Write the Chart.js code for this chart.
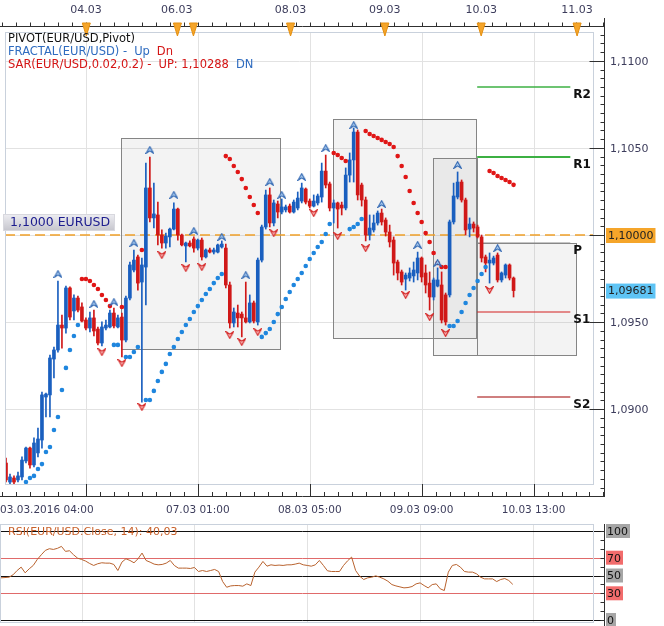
<!DOCTYPE html>
<html><head><meta charset="utf-8">
<script src="https://cdn.jsdelivr.net/npm/chart.js@4/dist/chart.umd.min.js"></script>
<style>
html,body{margin:0;padding:0;background:#fff;}
#wrap{position:relative;width:664px;height:626px;overflow:hidden;background:#fff;}
#main{position:absolute;left:0;top:0;}
#rsi{position:absolute;left:0;top:520px;}
</style></head><body>
<div id="wrap"><canvas id="main" width="664" height="520"></canvas><canvas id="rsi" width="664" height="106"></canvas></div>
<script>
// ---------- DATA (EUR/USD hourly candles, index = candle number) ----------
const opens = [
1.08691,1.08582,1.08605,1.08594,1.08611,1.08703,1.08777,1.08680,1.08749,1.08823,
1.09070,1.09082,1.09288,1.09340,1.09483,1.09466,1.09696,1.09564,1.09638,1.09587,
1.09512,1.09466,1.09524,1.09460,1.09380,1.09466,1.09472,1.09552,1.09472,1.09529,
1.09397,1.09638,1.09799,1.09874,1.09730,1.09816,1.10270,1.10098,1.10115,1.10000,
1.09954,1.09989,1.10034,1.10149,1.10000,1.09937,1.09954,1.09977,1.09925,1.09971,
1.09874,1.09914,1.09902,1.09902,1.09931,1.09925,1.09713,1.09495,1.09552,1.09546,
1.09524,1.09501,1.09610,1.09501,1.09856,1.10046,1.10230,1.10069,1.10178,1.10132,
1.10144,1.10166,1.10132,1.10155,1.10195,1.10264,1.10195,1.10166,1.10184,1.10218,
1.10367,1.10293,1.10155,1.10184,1.10172,1.10155,1.10344,1.10431,1.10591,1.10287,
1.10201,1.10000,1.10029,1.10069,1.10126,1.10086,1.10017,1.09971,1.09845,1.09788,
1.09747,1.09753,1.09765,1.09782,1.09868,1.09782,1.09724,1.09644,1.09707,1.09713,
1.09656,1.09656,1.10075,1.10218,1.10304,1.10201,1.10034,1.10063,1.10046,1.09989,
1.09874,1.09839,1.09839,1.09885,1.09742,1.09770,1.09828,1.09753];
const highs = [
1.08720,1.08628,1.08617,1.08639,1.08726,1.08783,1.08783,1.08835,1.08892,1.09099,
1.09093,1.09311,1.09357,1.09736,1.09541,1.09707,1.09702,1.09656,1.09650,1.09610,
1.09524,1.09558,1.09569,1.09472,1.09501,1.09512,1.09569,1.09581,1.09541,1.09552,
1.09650,1.09845,1.09914,1.09885,1.09868,1.10413,1.10448,1.10298,1.10189,1.10029,
1.10011,1.10040,1.10184,1.10155,1.10006,1.09960,1.09966,1.09989,1.09977,1.09983,
1.09920,1.09925,1.09925,1.09948,1.09966,1.09948,1.09730,1.09581,1.09598,1.09558,
1.09730,1.09656,1.09621,1.09868,1.10057,1.10258,1.10270,1.10201,1.10195,1.10207,
1.10172,1.10178,1.10201,1.10247,1.10298,1.10270,1.10207,1.10230,1.10235,1.10413,
1.10459,1.10304,1.10201,1.10189,1.10189,1.10385,1.10471,1.10614,1.10603,1.10298,
1.10218,1.10115,1.10115,1.10138,1.10149,1.10098,1.10057,1.09989,1.09856,1.09799,
1.09782,1.09811,1.09845,1.09902,1.09874,1.09828,1.09788,1.09753,1.09811,1.09788,
1.09667,1.10086,1.10298,1.10362,1.10316,1.10212,1.10098,1.10075,1.10057,1.10000,
1.09885,1.09897,1.09879,1.09897,1.09788,1.09834,1.09834,1.09759];
const lows = [
1.08582,1.08571,1.08571,1.08582,1.08594,1.08691,1.08662,1.08668,1.08726,1.08777,
1.08955,1.08955,1.09179,1.09328,1.09351,1.09437,1.09512,1.09512,1.09558,1.09501,
1.09455,1.09443,1.09420,1.09369,1.09363,1.09455,1.09466,1.09466,1.09466,1.09300,
1.09386,1.09627,1.09788,1.09684,1.09041,1.09598,1.10075,1.10040,1.09943,1.09925,
1.09925,1.09931,1.10029,1.09971,1.09937,1.09845,1.09931,1.09902,1.09914,1.09856,
1.09868,1.09897,1.09891,1.09897,1.09925,1.09696,1.09466,1.09472,1.09472,1.09415,
1.09495,1.09495,1.09495,1.09483,1.09845,1.10034,1.10046,1.10052,1.10098,1.10121,
1.10132,1.10126,1.10126,1.10144,1.10184,1.10178,1.10155,1.10161,1.10172,1.10189,
1.10270,1.10138,1.10069,1.10040,1.10115,1.10144,1.10304,1.10304,1.10201,1.10166,
1.09966,1.09971,1.10017,1.10057,1.10057,1.09994,1.09931,1.09770,1.09742,1.09713,
1.09684,1.09736,1.09730,1.09742,1.09730,1.09667,1.09569,1.09627,1.09702,1.09495,
1.09483,1.09644,1.10063,1.10207,1.10189,1.10000,1.09989,1.10017,1.09983,1.09845,
1.09788,1.09724,1.09828,1.09730,1.09730,1.09753,1.09742,1.09644];
const closes = [
1.08594,1.08611,1.08582,1.08617,1.08708,1.08777,1.08680,1.08806,1.08829,1.09082,
1.09087,1.09294,1.09340,1.09483,1.09466,1.09696,1.09529,1.09638,1.09569,1.09506,
1.09466,1.09524,1.09449,1.09380,1.09472,1.09483,1.09552,1.09478,1.09524,1.09397,
1.09638,1.09828,1.09856,1.09724,1.09828,1.10270,1.10098,1.10121,1.10000,1.09954,
1.09994,1.10034,1.10149,1.10000,1.09943,1.09954,1.09937,1.09925,1.09971,1.09874,
1.09914,1.09902,1.09914,1.09943,1.09948,1.09713,1.09495,1.09558,1.09524,1.09524,
1.09501,1.09610,1.09506,1.09856,1.10046,1.10230,1.10069,1.10184,1.10132,1.10161,
1.10161,1.10132,1.10189,1.10212,1.10270,1.10189,1.10166,1.10195,1.10224,1.10367,
1.10287,1.10155,1.10184,1.10149,1.10155,1.10344,1.10431,1.10591,1.10230,1.10201,
1.10000,1.10040,1.10069,1.10126,1.10075,1.10017,1.09960,1.09839,1.09782,1.09730,
1.09770,1.09782,1.09799,1.09868,1.09759,1.09713,1.09644,1.09742,1.09742,1.09512,
1.09501,1.10075,1.10224,1.10304,1.10201,1.10029,1.10063,1.10040,1.09989,1.09868,
1.09839,1.09856,1.09868,1.09742,1.09782,1.09828,1.09753,1.09681];

// Parabolic SAR dots [candle index, price]
const sarUpPts = [[5,1.08582],[6,1.08605],[7,1.08617],[8,1.08657],[9,1.08685],[10,1.08754],[11,1.08783],[12,1.08881],[13,1.08955],[14,1.09110],[15,1.09237],[16,1.09340],[17,1.09420],[18,1.09483],
[27,1.09369],[28,1.09369],[30,1.09300],[31,1.09300],[32,1.09328],[33,1.09357],
[35,1.09053],[36,1.09053],[37,1.09105],[38,1.09162],[39,1.09214],[40,1.09260],[41,1.09317],[42,1.09357],[43,1.09403],[44,1.09443],[45,1.09483],[46,1.09518],[47,1.09558],[48,1.09592],[49,1.09627],[50,1.09661],[51,1.09690],[52,1.09724],[53,1.09753],[54,1.09776],
[64,1.09415],[65,1.09437],[66,1.09460],[67,1.09501],[68,1.09546],[69,1.09587],[70,1.09633],[71,1.09673],[72,1.09713],[73,1.09747],[74,1.09782],[75,1.09822],[76,1.09862],[77,1.09897],[78,1.09931],[79,1.09960],[80,1.10006],[81,1.10063],
[86,1.10034],[87,1.10046],[88,1.10063],[89,1.10092],
[111,1.09478],[112,1.09478],[113,1.09506],[114,1.09558],[115,1.09610],[116,1.09656],[117,1.09696],[118,1.09736],[119,1.09776],[120,1.09816]];
const sarDnPts = [[19,1.09747],[20,1.09747],[21,1.09736],[22,1.09713],[23,1.09690],[24,1.09656],[25,1.09627],[26,1.09592],[29,1.09587],[34,1.09914],
[55,1.10453],[56,1.10436],[57,1.10396],[58,1.10362],[59,1.10321],[60,1.10270],[61,1.10218],[62,1.10172],[63,1.10126],
[82,1.10471],[83,1.10459],[84,1.10442],[85,1.10425],
[90,1.10597],[91,1.10580],[92,1.10568],[93,1.10557],[94,1.10546],[95,1.10534],[96,1.10522],[97,1.10505],[98,1.10453],[99,1.10396],[100,1.10333],[101,1.10253],[102,1.10184],[103,1.10126],[104,1.10075],[105,1.10011],[106,1.09960],[107,1.09897],[108,1.09839],[109,1.09816],[110,1.09816],
[121,1.10367],[122,1.10356],[123,1.10339],[124,1.10327],[125,1.10316],[126,1.10304],[127,1.10288]];

// Fractal markers [candle index, price]
const fractalUpPts = [[13,1.09776],[22,1.09604],[27,1.09615],[32,1.09954],[36,1.10488],[42,1.10230],[47,1.10023],[54,1.09989],[60,1.09770],[66,1.10304],[69,1.10230],[74,1.10333],[80,1.10499],[87,1.10631],[94,1.10178],[103,1.09943],[108,1.09839],[113,1.10402],[123,1.09925]];
const fractalDnPts = [[24,1.09328],[29,1.09265],[34,1.09013],[39,1.09885],[45,1.09811],[49,1.09816],[56,1.09426],[59,1.09386],[63,1.09443],[67,1.10011],[77,1.10126],[83,1.09994],[90,1.09925],[100,1.09656],[106,1.09529],[110,1.09437],[121,1.09684]];

// Pivot levels (drawn over a candle-index range)
const pivotNames  = ['R2','R1','P','S1','S2'];
const pivotValues = [1.10850,1.10448,1.09954,1.09558,1.09070];
const pivotFrom = 117.9, pivotTo = 141.2;

// Shaded boxes
const boxStart  = [28.8, 81.9, 106.9, 117.9];
const boxEnd    = [68.5, 117.6, 117.9, 142.7];
const boxTop    = [1.10557, 1.10666, 1.10442, 1.09954];
const boxBottom = [1.09346, 1.09409, 1.09311, 1.09311];

// Reference line and last price
const refLevel = 1.10000, refLabel = '1,1000 EURUSD', refTag = '1,10000';
const lastPrice = 1.09681, lastTag = '1,09681';
const sarLast = '1,10288';

// RSI(14)
const rsi = [
47.4,47.7,48.1,50.8,55.6,59.4,53.0,57.5,61.3,68.0,
73.3,78.2,80.1,79.3,80.5,82.7,77.1,77.8,73.3,69.5,
68.0,66.2,63.5,61.3,63.2,64.3,63.9,63.9,62.4,55.6,
65.0,68.8,66.9,64.3,68.8,75.2,66.9,65.0,62.8,62.0,
62.4,63.9,66.9,61.3,58.3,58.3,58.3,57.9,59.0,54.5,
55.6,54.5,55.6,56.8,54.5,43.2,36.8,38.3,38.7,38.7,
38.0,40.6,38.7,53.8,59.4,65.8,60.5,62.0,61.3,61.7,
61.3,62.0,62.0,62.8,63.9,62.0,61.3,60.5,62.0,66.9,
61.3,55.3,54.5,54.5,54.5,61.3,66.5,70.7,55.6,49.2,
45.5,47.4,48.1,49.6,48.1,46.2,43.6,39.8,38.3,37.2,
36.1,36.5,37.6,40.6,41.7,38.7,36.1,39.8,40.6,35.0,
33.1,53.8,61.3,62.4,59.4,54.5,53.8,53.8,51.9,48.1,
46.2,46.2,46.2,43.2,45.5,46.6,44.4,40.03];
const rsiLevels = [100,70,50,30,0];
const rsiTitle = 'RSI(EUR/USD.Close, 14): 40,03';

// Axis labels
const topLabels = ['04.03','06.03','08.03','09.03','10.03','11.03'];
const topLabelIdx = [20, 42.7, 71.2, 94.8, 118.9, 142.9];
const topMarkIdx = [20.1, 42.9, 46.9, 71.2, 94.8, 118.9, 142.9];
const bottomLabels = ['03.03.2016 04:00','07.03 01:00','08.03 05:00','09.03 09:00','10.03 13:00'];
const gridIdx = [20, 48, 76, 104, 132];
const priceMajor = [1.1100, 1.1050, 1.1000, 1.0950, 1.0900];

// ---------- RENDERING ----------
const X_MIN = -0.248, X_MAX = 149.88;
const UPC = '#1a5fbf', DNC = '#d01818';
const idx = opens.map((_, i) => i);
const candleColors = idx.map(i => closes[i] >= opens[i] ? UPC : DNC);
const FONT = '"DejaVu Sans", Verdana, sans-serif';
const fmt = (v, d) => v.toFixed(d).replace('.', ',');

function mkArrow(up) {
  const cv = document.createElement('canvas'); cv.width = 9; cv.height = 8;
  const g = cv.getContext('2d');
  g.beginPath();
  if (up) { g.moveTo(0.7, 7.4); g.lineTo(4.5, 0.7); g.lineTo(8.3, 7.4); g.lineTo(4.5, 4.8); }
  else { g.moveTo(0.7, 0.6); g.lineTo(4.5, 7.3); g.lineTo(8.3, 0.6); g.lineTo(4.5, 3.2); }
  g.closePath();
  g.fillStyle = up ? '#b5d4f4' : '#f8c0c0'; g.fill();
  g.lineWidth = 1.1; g.strokeStyle = up ? '#2f66b2' : '#d42020'; g.stroke();
  return cv;
}
const upImg = mkArrow(true), dnImg = mkArrow(false);

function seg(ctx, x1, y1, x2, y2) { ctx.beginPath(); ctx.moveTo(x1, y1); ctx.lineTo(x2, y2); ctx.stroke(); }
function txt(ctx, s, x, y, color, font, align, base) {
  ctx.fillStyle = color; ctx.font = font; ctx.textAlign = align || 'left'; ctx.textBaseline = base || 'middle'; ctx.fillText(s, x, y);
}
const snap = v => Math.round(v) + 0.5;

const mainDeco = {
  id: 'mainDeco',
  beforeDatasetsDraw(c) {
    const { ctx, chartArea: a, scales: { x, y } } = c;
    const fl = a.left, ft = a.top + 9, fr = a.right - 11, fb = a.bottom - 13;
    ctx.save();
    ctx.lineWidth = 1; ctx.strokeStyle = '#e2e2e2';
    gridIdx.forEach(i => { const px = snap(x.getPixelForValue(i)); seg(ctx, px, ft, px, fb); });
    priceMajor.forEach(p => { const py = snap(y.getPixelForValue(p)); seg(ctx, fl, py, fr, py); });
    for (let k = 0; k < boxStart.length; k++) {
      const x1 = Math.round(x.getPixelForValue(boxStart[k])), x2 = Math.round(x.getPixelForValue(boxEnd[k]));
      const y1 = Math.round(y.getPixelForValue(boxTop[k])), y2 = Math.round(y.getPixelForValue(boxBottom[k]));
      ctx.fillStyle = 'rgba(150,150,150,0.11)';
      ctx.fillRect(x1, y1, x2 - x1, y2 - y1);
      ctx.strokeStyle = '#858585';
      ctx.strokeRect(x1 + 0.5, y1 + 0.5, x2 - x1, y2 - y1);
    }
    const ry = y.getPixelForValue(refLevel);
    ctx.strokeStyle = '#f0a028'; ctx.lineWidth = 1.5; ctx.setLineDash([10, 5]);
    seg(ctx, fl, ry, fr, ry); ctx.setLineDash([]);
    ctx.restore();
  },
  afterDraw(c) {
    const { ctx, chartArea: a, scales: { x, y } } = c;
    const fl = a.left, ft = a.top + 9, fr = a.right - 11, fb = a.bottom - 13;
    ctx.save();
    ctx.lineWidth = 1;
    ctx.strokeStyle = '#c9d1dc'; ctx.strokeRect(fl + 0.5, ft + 0.5, fr - fl - 1, fb - ft);
    // top axis
    const ty = a.top + 3.5;
    ctx.strokeStyle = '#303030';
    seg(ctx, 0, ty, a.right, ty);
    for (let i = gridIdx[0] - 3.5 * 6; i <= X_MAX; i += 3.5) {
      const px = snap(x.getPixelForValue(i)); if (px < 0) continue; seg(ctx, px, ty - 4, px, ty);
    }
    topMarkIdx.forEach(i => {
      const px = x.getPixelForValue(i);
      ctx.beginPath(); ctx.moveTo(px - 4, a.top); ctx.lineTo(px + 4, a.top); ctx.lineTo(px, a.top + 13); ctx.closePath();
      ctx.fillStyle = '#f5a52a'; ctx.fill(); ctx.strokeStyle = '#e48f10'; ctx.stroke();
    });
    topLabels.forEach((s, k) => txt(ctx, s, x.getPixelForValue(topLabelIdx[k]), 10, '#3d3d5c', '11px ' + FONT, 'center'));
    // right axis
    ctx.strokeStyle = '#303030';
    const ax = a.right - 0.5;
    seg(ctx, ax, a.top - 5, ax, a.bottom);
    for (let p = 1.0850; p <= 1.11225; p += 0.0005) {
      const py = snap(y.getPixelForValue(p));
      const major = Math.abs(p * 200 - Math.round(p * 200)) < 1e-6;
      seg(ctx, major ? ax - 15 : ax - 4, py, ax, py);
    }
    priceMajor.forEach(p => { if (p !== refLevel) txt(ctx, fmt(p, 4), a.right + 5, y.getPixelForValue(p) + 1, '#3d3d5c', '11px ' + FONT); });
    // bottom axis
    seg(ctx, 0, a.bottom - 0.5, a.right, a.bottom - 0.5);
    let k = 0;
    for (let i = gridIdx[0] - 3.5 * 8; i <= X_MAX; i += 3.5, k++) {
      const px = snap(x.getPixelForValue(i)); if (px < 0) continue;
      const major = k % 8 === 0;
      seg(ctx, px, major ? fb : a.bottom - 5, px, a.bottom);
    }
    bottomLabels.forEach((s, j) => {
      if (j === 0) txt(ctx, s, 0, a.bottom + 13, '#3d3d5c', '10.5px ' + FONT, 'left');
      else txt(ctx, s, x.getPixelForValue(gridIdx[j]), a.bottom + 13, '#3d3d5c', '10.5px ' + FONT, 'center');
    });
    // legend
    const LF = '11.5px ' + FONT, BL = '#2f6cc0', RD = '#d41414';
    txt(ctx, 'PIVOT(EUR/USD,Pivot)', 8, 39, '#111', LF);
    ctx.font = LF;
    let cx = 8;
    const put = (s, col, gap, yy) => { txt(ctx, s, cx, yy, col, LF); cx += ctx.measureText(s).width + gap; };
    cx = 8; put('FRACTAL(EUR/USD) -', BL, 7, 52); put('Up', BL, 7, 52); put('Dn', RD, 0, 52);
    cx = 8; put('SAR(EUR/USD,0.02,0.2) -', RD, 7, 65); put('UP: ' + sarLast, RD, 7, 65); put('DN', BL, 0, 65);
    // reference label box
    const ry = y.getPixelForValue(refLevel);
    const g = ctx.createLinearGradient(0, ry - 21, 0, ry - 4);
    g.addColorStop(0, '#eeeef2'); g.addColorStop(1, '#c4c4cc');
    ctx.fillStyle = g; ctx.fillRect(3, ry - 21, 112, 17);
    ctx.strokeStyle = '#d8d8de'; ctx.strokeRect(3.5, ry - 20.5, 111, 16);
    txt(ctx, refLabel, 10, ry - 12, '#1c1c8e', '12.5px ' + FONT);
    // pivot labels
    pivotNames.forEach((s, j) => txt(ctx, s, x.getPixelForValue(pivotTo) + 3, y.getPixelForValue(pivotValues[j]) + 2, '#111', 'bold 12px ' + FONT, 'left', 'top'));
    // price tags
    ctx.font = '11px ' + FONT;
    const tag = (s, v, bg) => {
      const py = y.getPixelForValue(v); const w = ctx.measureText(s).width + 4;
      ctx.fillStyle = bg; ctx.fillRect(a.right + 1, py - 7, w, 15);
      txt(ctx, s, a.right + 3, py + 1, '#222', '11px ' + FONT);
    };
    tag(refTag, refLevel, '#f5a52a');
    tag(lastTag, lastPrice, '#5ec4f5');
    ctx.restore();
  }
};

const pivotColors = ['#3cb043', '#3cb043', '#8a8a8a', '#d42020', '#a00000'];
const pivotWidths = [1.5, 2, 1, 1.2, 1.2];
const pivotSets = pivotNames.map((n, j) => ({
  type: 'line', data: [{ x: pivotFrom, y: pivotValues[j] }, { x: pivotTo, y: pivotValues[j] }],
  borderColor: pivotColors[j], borderWidth: pivotWidths[j], pointRadius: 0, order: 8
}));

new Chart(document.getElementById('main'), {
  type: 'bar',
  data: {
    datasets: [
      ...pivotSets,
      { type: 'bar', data: idx.map(i => ({ x: i, y: [lows[i], highs[i]] })), backgroundColor: candleColors, barThickness: 1, grouped: false, minBarLength: 1, order: 6 },
      { type: 'bar', data: idx.map(i => ({ x: i, y: [opens[i], closes[i]] })), backgroundColor: candleColors, barThickness: 3, grouped: false, minBarLength: 1, order: 5 },
      { type: 'scatter', data: sarUpPts.map(([i, v]) => ({ x: i, y: v })), pointRadius: 2.3, pointBackgroundColor: '#1f86de', pointBorderWidth: 0, order: 3 },
      { type: 'scatter', data: sarDnPts.map(([i, v]) => ({ x: i, y: v })), pointRadius: 2.3, pointBackgroundColor: '#e01616', pointBorderWidth: 0, order: 3 },
      { type: 'scatter', data: fractalUpPts.map(([i, v]) => ({ x: i, y: v })), pointStyle: upImg, pointRadius: 4, order: 1 },
      { type: 'scatter', data: fractalDnPts.map(([i, v]) => ({ x: i, y: v })), pointStyle: dnImg, pointRadius: 4, order: 1 }
    ]
  },
  options: {
    responsive: false, animation: false, events: [],
    layout: { padding: { left: 0, right: 59, top: 23, bottom: 23 } },
    plugins: { legend: { display: false }, tooltip: { enabled: false } },
    scales: {
      x: { type: 'linear', min: X_MIN, max: X_MAX, display: false, offset: false, grid: { offset: false } },
      y: { type: 'linear', min: 1.08496, max: 1.11217, display: false, beginAtZero: false }
    }
  },
  plugins: [mainDeco]
});

const rsiDeco = {
  id: 'rsiDeco',
  beforeDatasetsDraw(c) {
    const { ctx, chartArea: a, scales: { x, y } } = c;
    ctx.save(); ctx.lineWidth = 1;
    ctx.strokeStyle = '#e2e2e2';
    gridIdx.forEach(i => { const px = snap(x.getPixelForValue(i)); seg(ctx, px, a.top, px, a.bottom); });
    rsiLevels.forEach(l => {
      ctx.strokeStyle = (l === 70 || l === 30) ? '#e06a6a' : '#111';
      const py = snap(y.getPixelForValue(l)); seg(ctx, 0, py, a.right, py);
    });
    ctx.restore();
  },
  afterDraw(c) {
    const { ctx, chartArea: a, scales: { x, y } } = c;
    ctx.save(); ctx.lineWidth = 1;
    ctx.strokeStyle = '#c9d1dc'; ctx.strokeRect(0.5, a.top + 0.5, a.right - 12, a.bottom - a.top - 1);
    ctx.strokeStyle = '#303030';
    const ax = a.right - 0.5;
    seg(ctx, ax, a.top, ax, c.height);
    for (let l = 0; l <= 100; l += 10) { const py = snap(y.getPixelForValue(l)); seg(ctx, ax - 4, py, ax, py); }
    ctx.font = '11px ' + FONT;
    rsiLevels.forEach(l => {
      const s = String(l), py = y.getPixelForValue(l), w = ctx.measureText(s).width + 3;
      ctx.fillStyle = (l === 70 || l === 30) ? '#f26c6c' : '#a6a6a6';
      ctx.fillRect(a.right + 1, py - 7, w, 14);
      txt(ctx, s, a.right + 2, py + 1, '#111', '11px ' + FONT);
    });
    txt(ctx, rsiTitle, 8, 12, '#c8602a', '11px ' + FONT);
    ctx.restore();
  }
};

new Chart(document.getElementById('rsi'), {
  type: 'line',
  data: { datasets: [{ data: idx.map(i => ({ x: i, y: rsi[i] })), borderColor: '#b8622e', borderWidth: 1, pointRadius: 0, tension: 0 }] },
  options: {
    responsive: false, animation: false, events: [],
    layout: { padding: { left: 0, right: 59, top: 4, bottom: 3 } },
    plugins: { legend: { display: false }, tooltip: { enabled: false } },
    scales: {
      x: { type: 'linear', min: X_MIN, max: X_MAX, display: false },
      y: { type: 'linear', min: -3.37, max: 107.87, display: false }
    }
  },
  plugins: [rsiDeco]
});
</script></body></html>
